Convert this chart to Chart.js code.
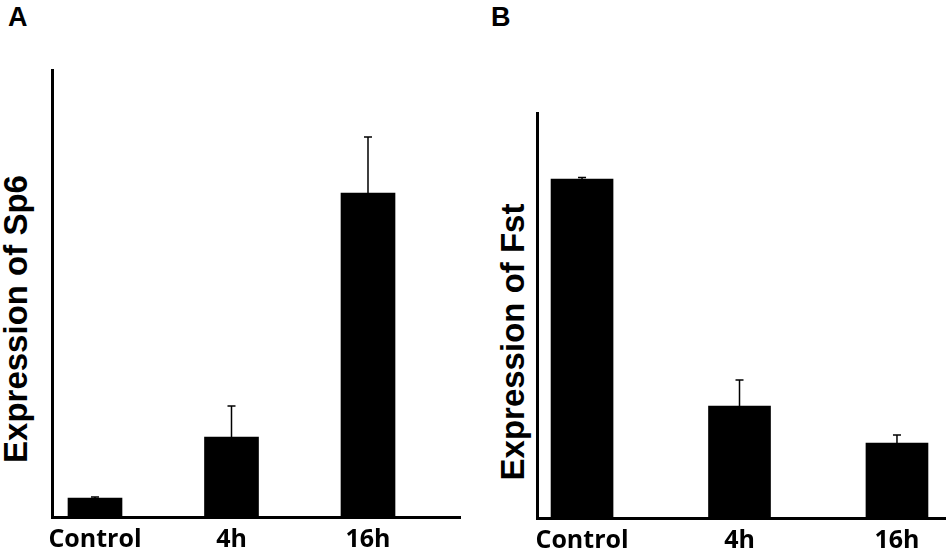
<!DOCTYPE html>
<html>
<head>
<meta charset="utf-8">
<script src="https://cdn.jsdelivr.net/npm/chart.js@4.4.1/dist/chart.umd.min.js"></script>
<style>
body { margin: 0; background: #fff; width: 950px; height: 560px; position: relative; overflow: hidden;
       font-family: "Liberation Sans", Arial, sans-serif; color: #000; }
canvas { position: absolute; top: 0; }
#chartA { left: 0; }
#chartB { left: 475px; }
.panel { position: absolute; font-weight: bold; font-size: 27px; line-height: 27px; }
.ytitle { position: absolute; font-weight: bold; font-size: 33px; line-height: 33px; white-space: nowrap;
          transform: translate(-50%, -50%) rotate(-90deg); }
</style>
</head>
<body>
<div class="panel" style="left:8px;top:4px">A</div>
<div class="panel" style="left:491px;top:4px">B</div>
<div class="ytitle" style="left:15px;top:319px">Expression of Sp6</div>
<div class="ytitle" style="left:512px;top:342px">Expression of Fst</div>
<canvas id="chartA" width="475" height="560"></canvas>
<canvas id="chartB" width="475" height="560"></canvas>
<script>
// values, relative to Control = 1
const categories = ['Control', '4h', '16h'];
const sp6Values = [1, 4.21, 17.05];
const sp6Errors = [0.05, 1.63, 2.95];
const fstValues = [1, 0.33, 0.221];
const fstErrors = [0.005, 0.077, 0.024];

// error bars, only the upper half like in the figure
const errorBars = {
    id: 'errorBars',
    afterDatasetsDraw(chart) {
        const ctx = chart.ctx;
        const xs = chart.scales.x;
        const ys = chart.scales.y;
        const ds = chart.data.datasets[0];
        ctx.save();
        ctx.strokeStyle = '#000';
        ctx.lineWidth = 1.5;
        ds.data.forEach((p, i) => {
            const x = xs.getPixelForValue(p.x);
            const y0 = ys.getPixelForValue(p.y);
            const y1 = ys.getPixelForValue(p.y + ds.errors[i]);
            ctx.beginPath();
            ctx.moveTo(x, y0);
            ctx.lineTo(x, y1);
            ctx.moveTo(x - 4, y1);
            ctx.lineTo(x + 4, y1);
            ctx.stroke();
        });
        ctx.restore();
    }
};

function createBarChart(canvas, values, errors, cfg) {
    return new Chart(canvas, {
        type: 'bar',
        data: {
            datasets: [{
                data: values.map((v, i) => ({x: i, y: v})),
                errors: errors,
                backgroundColor: '#000',
                borderWidth: 0,
                barThickness: cfg.barWidth
            }]
        },
        options: {
            responsive: false,
            animation: false,
            layout: {padding: cfg.padding},
            plugins: {legend: {display: false}, tooltip: {enabled: false}},
            scales: {
                x: {
                    type: 'linear',
                    min: cfg.xMin,
                    max: cfg.xMax,
                    offset: false,
                    grid: {display: false, drawTicks: false, offset: false},
                    border: {color: '#000', width: 3},
                    afterBuildTicks: s => { s.ticks = categories.map((c, i) => ({value: i})) },
                    afterFit: s => { s.height = cfg.xHeight },
                    ticks: {
                        color: '#000',
                        padding: 8,
                        maxRotation: 0,
                        autoSkip: false,
                        font: {family: '"Open Sans"', weight: 'bold', size: 25},
                        callback: v => categories[v]
                    }
                },
                y: {
                    min: 0,
                    max: cfg.yMax,
                    grid: {display: false, drawTicks: false},
                    border: {color: '#000', width: 3},
                    ticks: {display: false},
                    afterFit: s => { s.width = 0 }
                }
            }
        },
        plugins: [errorBars]
    });
}

createBarChart(document.getElementById('chartA'), sp6Values, sp6Errors, {
    barWidth: 54, xMin: -0.315, xMax: 2.674, yMax: 23.53, xHeight: 43,
    padding: {left: 52, right: 15, top: 70, bottom: 0}
});

createBarChart(document.getElementById('chartB'), fstValues, fstErrors, {
    barWidth: 62, xMin: -0.286, xMax: 2.305, yMax: 1.195, xHeight: 42,
    padding: {left: 62, right: 5, top: 113, bottom: 0}
});
</script>
</body>
</html>
